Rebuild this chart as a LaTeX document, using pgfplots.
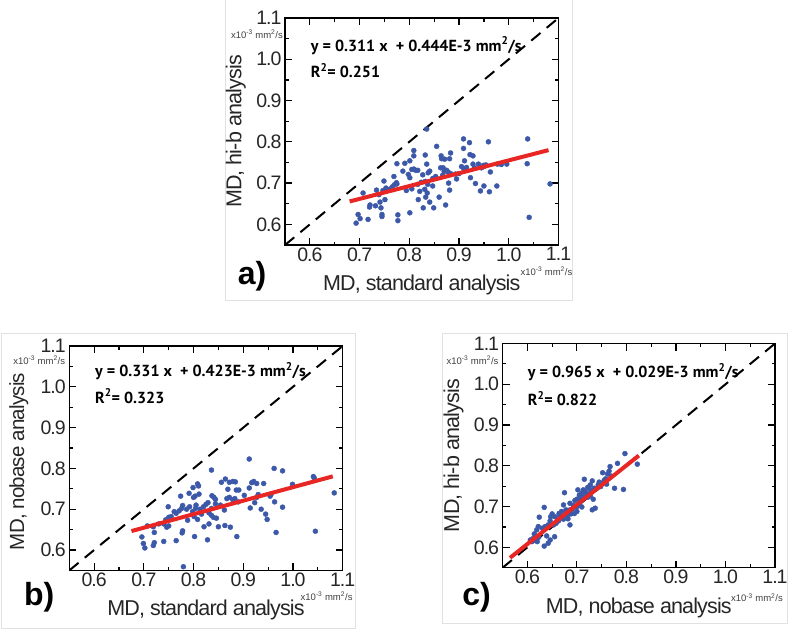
\documentclass[border=0pt]{standalone}
\usepackage{fontspec}
\setmainfont{Liberation Sans}
\newfontfamily\tickfont[LetterSpace=-5]{Liberation Sans}
\newfontfamily\labelfont[LetterSpace=-4]{Liberation Sans}
\newfontfamily\eqfont{PT Sans}
\usepackage{pgfplots}
\usepackage{pgfplotstable}
\pgfplotsset{compat=1.18}
\definecolor{dotblue}{RGB}{60,88,168}
\definecolor{fitred}{RGB}{232,38,36}
\definecolor{framegray}{RGB}{225,225,225}

\pgfplotstableread{
x y
0.835 0.831
0.909 0.807
0.921 0.798
0.959 0.800
1.038 0.807
0.855 0.789
0.809 0.779
0.909 0.784
0.809 0.766
0.832 0.768
0.883 0.773
0.864 0.766
0.922 0.769
0.928 0.766
0.801 0.754
0.791 0.748
0.775 0.747
0.835 0.746
0.911 0.754
0.865 0.759
0.871 0.758
0.881 0.759
0.928 0.746
0.939 0.746
0.949 0.743
0.954 0.744
0.977 0.746
0.996 0.746
1.037 0.747
0.805 0.733
0.809 0.734
0.813 0.731
0.817 0.731
0.787 0.729
0.841 0.729
0.863 0.737
0.868 0.737
0.875 0.731
0.878 0.727
0.910 0.733
0.915 0.738
0.931 0.737
0.945 0.737
0.963 0.727
0.769 0.716
0.749 0.705
0.798 0.721
0.801 0.713
0.827 0.720
0.838 0.725
0.847 0.711
0.853 0.716
0.867 0.719
0.883 0.723
0.900 0.723
0.923 0.713
0.933 0.699
0.950 0.693
0.943 0.681
0.961 0.679
0.976 0.693
1.083 0.698
0.879 0.700
0.881 0.683
0.847 0.693
0.837 0.697
0.832 0.704
0.824 0.702
0.817 0.697
0.805 0.686
0.794 0.682
0.775 0.698
0.774 0.701
0.770 0.696
0.766 0.691
0.762 0.686
0.760 0.684
0.753 0.688
0.747 0.682
0.739 0.672
0.734 0.683
0.707 0.676
0.721 0.647
0.720 0.642
0.732 0.645
0.741 0.654
0.743 0.640
0.751 0.660
0.745 0.624
0.745 0.619
0.777 0.623
0.777 0.609
0.801 0.628
0.818 0.660
0.828 0.640
0.833 0.666
0.836 0.676
0.841 0.654
0.849 0.640
0.873 0.647
0.860 0.666
0.821 0.680
0.831 0.685
0.693 0.603
0.697 0.624
0.701 0.614
0.717 0.612
1.041 0.617
0.893 0.722
0.870 0.728
0.895 0.710
0.905 0.740
0.950 0.740
0.985 0.745
}\dataA

\pgfplotstableread{
x y
0.912 0.823
0.836 0.796
0.962 0.800
0.979 0.794
1.041 0.780
1.043 0.776
1.083 0.740
0.999 0.761
0.864 0.774
0.872 0.766
0.879 0.768
0.884 0.767
0.856 0.766
0.808 0.762
0.810 0.757
0.799 0.753
0.791 0.739
0.803 0.732
0.800 0.729
0.811 0.737
0.774 0.732
0.837 0.733
0.841 0.729
0.844 0.724
0.869 0.749
0.886 0.747
0.891 0.747
0.912 0.752
0.917 0.765
0.921 0.768
0.927 0.763
0.941 0.763
0.954 0.732
0.956 0.737
0.963 0.718
0.979 0.705
0.966 0.643
1.045 0.646
0.936 0.700
0.945 0.688
0.948 0.675
0.923 0.716
0.927 0.729
0.930 0.736
0.914 0.703
0.902 0.734
0.890 0.718
0.883 0.726
0.879 0.723
0.872 0.729
0.867 0.726
0.862 0.698
0.874 0.656
0.850 0.657
0.887 0.633
0.844 0.713
0.854 0.710
0.836 0.702
0.831 0.691
0.836 0.685
0.840 0.680
0.846 0.678
0.825 0.712
0.820 0.706
0.829 0.716
0.816 0.688
0.813 0.700
0.805 0.710
0.804 0.702
0.798 0.694
0.792 0.706
0.786 0.700
0.778 0.709
0.776 0.702
0.771 0.696
0.765 0.690
0.761 0.694
0.755 0.682
0.750 0.680
0.749 0.706
0.744 0.674
0.740 0.664
0.746 0.656
0.750 0.659
0.730 0.664
0.719 0.657
0.721 0.643
0.707 0.659
0.696 0.632
0.699 0.616
0.702 0.605
0.719 0.611
0.721 0.618
0.740 0.621
0.765 0.623
0.778 0.647
0.777 0.642
0.802 0.633
0.828 0.625
0.821 0.657
0.863 0.660
0.831 0.664
0.801 0.682
0.808 0.675
0.788 0.673
0.7795 0.559
}\dataB

\pgfplotstableread{
x y
0.797 0.830
0.822 0.804
0.782 0.806
0.794 0.742
0.776 0.745
0.767 0.798
0.765 0.787
0.762 0.780
0.752 0.783
0.769 0.775
0.758 0.768
0.755 0.764
0.748 0.757
0.743 0.753
0.748 0.749
0.760 0.755
0.731 0.763
0.727 0.753
0.722 0.747
0.715 0.767
0.713 0.741
0.728 0.741
0.717 0.737
0.710 0.733
0.702 0.741
0.705 0.728
0.716 0.723
0.722 0.723
0.727 0.726
0.733 0.718
0.737 0.696
0.731 0.692
0.710 0.723
0.706 0.716
0.700 0.718
0.696 0.715
0.705 0.705
0.710 0.699
0.700 0.700
0.693 0.703
0.692 0.696
0.686 0.708
0.700 0.688
0.695 0.683
0.686 0.692
0.688 0.682
0.678 0.692
0.681 0.679
0.675 0.734
0.673 0.704
0.669 0.688
0.664 0.683
0.666 0.675
0.673 0.669
0.682 0.670
0.686 0.655
0.663 0.665
0.656 0.675
0.658 0.659
0.650 0.682
0.647 0.675
0.646 0.665
0.653 0.655
0.642 0.655
0.634 0.698
0.636 0.651
0.624 0.674
0.630 0.647
0.622 0.651
0.619 0.643
0.614 0.633
0.623 0.625
0.639 0.628
0.646 0.618
0.634 0.603
0.642 0.610
0.655 0.626
0.611 0.616
0.620 0.614
0.609 0.614
0.606 0.618
0.612 0.622
0.728 0.735
0.720 0.730
0.745 0.760
0.735 0.745
}\dataC

\pgfplotsset{
  mdstyle/.style={
    scale only axis,
    xmin=0.55, xmax=1.1, ymin=0.55, ymax=1.1,
    xtick={0.6,0.7,0.8,0.9,1.0,1.1},
    ytick={0.6,0.7,0.8,0.9,1.0,1.1},
    minor tick num=1,
    tick align=inside,
    major tick length=7pt,
    minor tick length=3.5pt,
    axis line style={line width=1.4pt},
    every tick/.style={black, line width=1.2pt},
    tick label style={font=\tickfont\fontsize{19.5}{19.5}\selectfont, text=black!85},
    xticklabel style={yshift=1pt},
    /pgf/number format/assume math mode=true,
    /pgf/number format/fixed,
    /pgf/number format/fixed zerofill,
    /pgf/number format/precision=1,
    scaled ticks=false,
    label style={font=\labelfont\fontsize{21.5}{22}\selectfont, text=black!85},
    x label style={at={(axis description cs:0.5,-0.178)}, anchor=center},
    y label style={at={(axis description cs:-0.18,0.5)}, anchor=center},
    clip mode=individual,
  },
}
\tikzset{
  eqtext/.style={anchor=west, font=\eqfont\bfseries\fontsize{16}{16}\selectfont},
  unittext/.style={font=\fontsize{9.5}{9.5}\selectfont, text=black!75, inner sep=0pt},
  paneltext/.style={font=\bfseries\fontsize{32}{32}\selectfont},
}

\begin{document}
\begin{tikzpicture}
\useasboundingbox (0,0) rectangle (795pt,-637pt);

% panel frames
\draw[framegray, line width=0.8pt] (225pt,0pt) -- (225pt,-300pt) -- (572pt,-300pt) -- (572pt,0pt);
\draw[framegray, line width=0.8pt] (1pt,-333pt) rectangle (355pt,-628pt);
\draw[framegray, line width=0.8pt] (442pt,-333pt) rectangle (787pt,-623pt);

% a)
\begin{axis}[mdstyle, width=273.5pt, height=227pt,
  at={(285pt,-245pt)}, anchor=south west,
  xlabel={MD, standard analysis}, ylabel={MD, hi-b analysis}]
\addplot[black, line width=2pt, dash pattern=on 12pt off 8pt] coordinates {(0.55,0.55) (1.1,1.1)};
\addplot[only marks, mark=*, mark size=2.5pt, dotblue, mark options={draw=none, fill=dotblue}] table {\dataA};
\addplot[fitred, line width=4pt] coordinates {(0.68,0.6555) (1.08,0.7799)};
\node[eqtext] at (axis cs:0.595,1.033) {y = 0.311 x \ + 0.444E-3 mm\textsuperscript{2}/s};
\node[eqtext] at (axis cs:0.595,0.972) {R\textsuperscript{2}= 0.251};
\node[unittext, anchor=east] at ([xshift=-2pt,yshift=-16pt]rel axis cs:0,1) {x10\textsuperscript{-3} mm\textsuperscript{2}/s};
\node[unittext, anchor=east] at ([xshift=14pt,yshift=-26pt]rel axis cs:1,0) {x10\textsuperscript{-3} mm\textsuperscript{2}/s};
\node[paneltext] at ([xshift=-33pt,yshift=-31pt]rel axis cs:0,0) {a)};
\end{axis}

% b)
\begin{axis}[mdstyle, width=273.4pt, height=224.4pt,
  at={(69.3pt,-570.4pt)}, anchor=south west,
  y label style={at={(axis description cs:-0.185,0.485)}, font=\labelfont\fontsize{20.5}{21}\selectfont},
  xlabel={MD, standard analysis}, ylabel={MD, nobase analysis}]
\addplot[black, line width=2pt, dash pattern=on 12pt off 8pt] coordinates {(0.55,0.55) (1.1,1.1)};
\addplot[only marks, mark=*, mark size=2.5pt, dotblue, mark options={draw=none, fill=dotblue}] table {\dataB};
\addplot[fitred, line width=4pt] coordinates {(0.675,0.6464) (1.08,0.7805)};
\node[eqtext] at (axis cs:0.595,1.038) {y = 0.331 x \ + 0.423E-3 mm\textsuperscript{2}/s};
\node[eqtext] at (axis cs:0.595,0.977) {R\textsuperscript{2}= 0.323};
\node[unittext, anchor=east] at ([xshift=-4pt,yshift=-14pt]rel axis cs:0,1) {x10\textsuperscript{-3} mm\textsuperscript{2}/s};
\node[unittext, anchor=east] at ([xshift=10pt,yshift=-26pt]rel axis cs:1,0) {x10\textsuperscript{-3} mm\textsuperscript{2}/s};
\node[paneltext] at ([xshift=-30pt,yshift=-27pt]rel axis cs:0,0) {b)};
\end{axis}

% c)
\begin{axis}[mdstyle, width=272.4pt, height=224.2pt,
  at={(502.6pt,-567.7pt)}, anchor=south west,
  xlabel={MD, nobase analysis}, ylabel={MD, hi-b analysis}]
\addplot[black, line width=2pt, dash pattern=on 12pt off 8pt] coordinates {(0.55,0.55) (1.1,1.1)};
\addplot[only marks, mark=*, mark size=2.5pt, dotblue, mark options={draw=none, fill=dotblue}] table {\dataC};
\addplot[fitred, line width=4pt] coordinates {(0.565,0.5742) (0.825,0.8251)};
\node[eqtext] at (axis cs:0.594,1.029) {y = 0.965 x \ + 0.029E-3 mm\textsuperscript{2}/s};
\node[eqtext] at (axis cs:0.594,0.965) {R\textsuperscript{2}= 0.822};
\node[unittext, anchor=east] at ([xshift=-4pt,yshift=-17pt]rel axis cs:0,1) {x10\textsuperscript{-3} mm\textsuperscript{2}/s};
\node[unittext, anchor=east] at ([xshift=8pt,yshift=-30pt]rel axis cs:1,0) {x10\textsuperscript{-3} mm\textsuperscript{2}/s};
\node[paneltext] at ([xshift=-26pt,yshift=-30pt]rel axis cs:0,0) {c)};
\end{axis}
\end{tikzpicture}
\end{document}
